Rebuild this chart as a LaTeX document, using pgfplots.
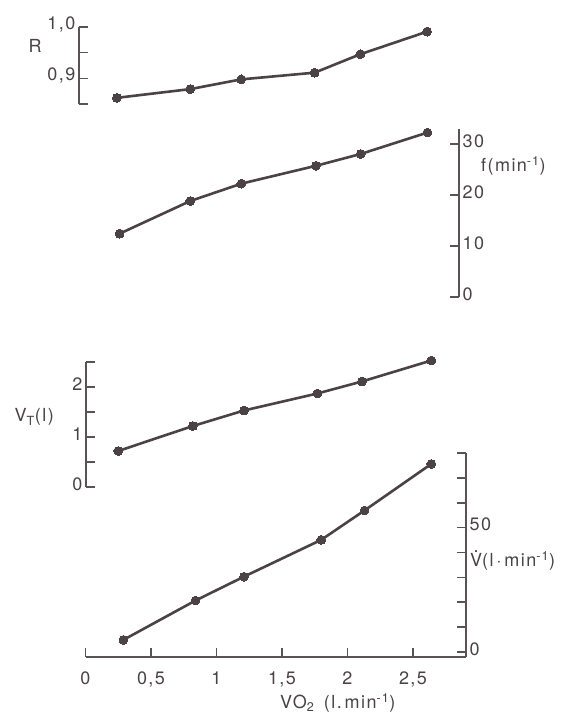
\documentclass[border=0pt]{standalone}
\usepackage{fontspec}
\setmainfont[LetterSpace=8]{TeX Gyre Heros}
\usepackage{pgfplots}
\pgfplotsset{compat=1.18}
\definecolor{ink}{HTML}{4A4245}
\definecolor{axink}{HTML}{5A5254}
\newcommand{\vdotV}{\ooalign{V\cr\hidewidth\smash{\raisebox{0.78em}{.}}\hidewidth\cr}}
\newcommand{\lbl}{\fontsize{18}{20}\selectfont}
\pgfplotsset{
  panel/.style={scale only axis, clip=false,
    tick align=inside, major tick length=9pt,
    axis line style={axink, line width=1.6pt},
    tick style={axink, line width=1.6pt},
    yticklabel style={font=\lbl, text=ink, inner sep=3.5pt, yshift=3pt},
    xticklabel style={font=\lbl, text=ink, yshift=-11pt},
    /pgf/number format/assume math mode=true},
  series/.style={ink, line width=2.6pt, mark=*, mark size=4.4pt,
    mark options={fill=ink, draw=ink, line width=0pt}}
}
\begin{document}
\begin{tikzpicture}
\path[use as bounding box] (0,0) rectangle (562pt,716pt);
% R panel
\begin{axis}[panel, axis x line=none, xtick=\empty, at={(79pt,612pt)}, anchor=south west, width=373pt, height=77pt,
  xmin=-0.0496, xmax=2.8, ymin=0.85, ymax=1.0, axis y line*=left,
  ytick={0.85,0.9,0.95,1.0}, yticklabels={{},{0,9},{},{1,0}}]
\addplot[series] coordinates {(0.24,0.862) (0.80,0.879) (1.19,0.898) (1.75,0.911) (2.10,0.947) (2.61,0.991)};
\end{axis}
% f panel
\begin{axis}[panel, axis x line=none, xtick=\empty, at={(85.5pt,419pt)}, anchor=south west, width=373.5pt, height=168pt,
  xmin=0, xmax=2.851, ymin=0, ymax=32.9, axis y line*=right,
  ytick={0,10,20,30}, yticklabels={0,10,20,30}]
\addplot[series] coordinates {(0.26,12.4) (0.80,18.8) (1.19,22.2) (1.76,25.7) (2.10,28.0) (2.61,32.2)};
\end{axis}
% VT panel
\begin{axis}[panel, axis x line=none, xtick=\empty, at={(86pt,229pt)}, anchor=south west, width=366.3pt, height=125pt,
  xmin=0.004, xmax=2.8, ymin=0, ymax=2.5, axis y line*=left,
  ytick={0,0.5,1,1.5,2,2.5}, yticklabels={0,{},1,{},2,{}}]
\addplot[series] coordinates {(0.25,0.72) (0.82,1.22) (1.21,1.53) (1.77,1.87) (2.11,2.11) (2.64,2.53)};
\end{axis}
% V-dot panel with x axis
\begin{axis}[panel, at={(85.5pt,59pt)}, anchor=south west, width=380.5pt, height=204pt,
  xmin=0, xmax=2.905, ymin=-2, ymax=80, axis y line*=right, axis x line*=bottom,
  xtick={0,0.5,1,1.5,2,2.5}, xticklabels={0,{0,5},1,{1,5},2,{2,5}},
  ytick={0,10,20,30,40,50,60,70,80}, yticklabels={0,{},{},{},{},50,{},{},{}}]
\addplot[series] coordinates {(0.29,4.9) (0.84,20.7) (1.21,30.3) (1.80,45.1) (2.13,56.9) (2.64,75.6)};
\end{axis}
\begin{scope}[every node/.style={font=\lbl, text=ink, inner sep=0pt}]
\node at (35pt,670pt) {R};
\node[anchor=base west] at (481pt,544pt) {f(min\textsuperscript{-1})};
\node[anchor=base east] at (54pt,294pt) {V\textsubscript{T}(l)};
\node[anchor=base west] at (470pt,149pt) {\vdotV(l\,$\cdot$\,min\textsuperscript{-1})};
\node[anchor=base west] at (280pt,7pt) {VO\textsubscript{2} \,(l.\,min\textsuperscript{-1})};
\end{scope}
\end{tikzpicture}
\end{document}
